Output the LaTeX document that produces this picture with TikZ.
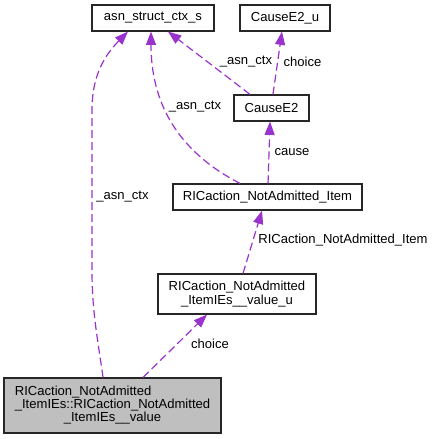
\documentclass[tikz,border=0pt]{standalone}
\usepackage{fontspec}
\setmainfont{Liberation Sans}
\usetikzlibrary{arrows.meta, positioning, calc}

\begin{document}
\begin{tikzpicture}[
  x=0.75pt, y=-0.75pt,
  >={Triangle[length=10pt,width=7.5pt]},
  box/.style={draw=cborder, line width=0.85pt, fill=white, align=center,
              inner sep=0pt, minimum height=19.5pt,
              font=\fontsize{9.8}{10.6}\selectfont},
  dep/.style={->, cedge, line width=0.9pt, dash pattern=on 6pt off 3pt},
  lbl/.style={inner sep=0pt, font=\fontsize{9.8}{11}\selectfont},
]
\definecolor{cborder}{HTML}{262626}
\definecolor{cedge}{HTML}{9A32CD}
\definecolor{cmain}{HTML}{BFBFBF}
\useasboundingbox (0,0) rectangle (433,439);
\node[box,minimum width=91.5pt] (ctx) at (153,18) {asn\_struct\_ctx\_s};
\node[box,minimum width=67.5pt] (cu) at (285,18) {CauseE2\_u};
\node[box,minimum width=56.25pt] (ce2) at (271.5,108) {CauseE2};
\node[box,minimum width=141.75pt] (item) at (267.5,197) {RICaction\_NotAdmitted\_Item};
\node[box,minimum width=118.5pt,minimum height=30pt] (valu) at (237,294)
  {RICaction\_NotAdmitted\\\_ItemIEs\_\_value\_u};
\node[box,fill=cmain,minimum width=162.75pt,minimum height=41.25pt] (main) at (112.5,405.5)
  {\begin{tabular}{@{}l@{}}RICaction\_NotAdmitted\\[-1pt]
   \_ItemIEs::RICaction\_NotAdmitted\\[-1pt]
   \multicolumn{1}{@{}c@{}}{\_ItemIEs\_\_value}\end{tabular}};
% labels
\node[lbl] (l1) at (122.5,197) {\_asn\_ctx};
\node[lbl] (l2) at (195,107) {\_asn\_ctx};
\node[lbl] (l3) at (246,62) {\_asn\_ctx};
\node[lbl] (l4) at (302.5,62) {choice};
\node[lbl] (l5) at (292,152) {cause};
\node[lbl] (l6) at (343,240) {RICaction\_NotAdmitted\_Item};
\node[lbl] (l7) at (210,344) {choice};
% connectors
\draw[dep] ([xshift=-7.1pt]main.north) .. controls (97,335) and (92,310) .. (92,270)
  -- (92,110) .. controls (92,75) and (105,55) .. ([xshift=-18.75pt]ctx.south);
\draw[dep] ([xshift=-20.6pt]item.north) .. controls (175,150) and (151,100) .. ([xshift=-1.5pt]ctx.south);
\draw[dep] ([xshift=-16.1pt]ce2.north) -- ([xshift=11.25pt]ctx.south);
\draw[dep] ([xshift=1.1pt]ce2.north) -- ([xshift=-2.25pt]cu.south);
\draw[dep] ([xshift=0.4pt]item.north) -- ([xshift=-1.1pt]ce2.south);
\draw[dep] ([xshift=4.5pt]valu.north) -- ([xshift=-4.1pt]item.south);
\draw[dep] ([xshift=22.9pt]main.north) -- ([xshift=-22.5pt]valu.south);
\end{tikzpicture}
\end{document}
